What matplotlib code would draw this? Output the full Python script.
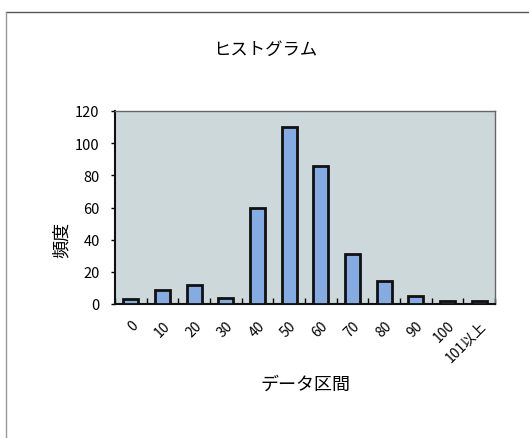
import matplotlib
matplotlib.use('Agg')
import numpy as np
from matplotlib import pyplot as plt
from matplotlib.lines import Line2D

plt.rcParams['font.family'] = ['Noto Sans CJK JP', 'DejaVu Sans']

# Data
bins = ['0', '10', '20', '30', '40', '50', '60', '70', '80', '90', '100',
        '101以上']
counts = [3, 9, 12, 4, 60, 110, 86, 31, 14, 5, 2, 2]
y_ticks = [0, 20, 40, 60, 80, 100, 120]

fig = plt.figure(figsize=(5.29, 4.39), dpi=100)
fig.patch.set_facecolor('white')

# Outer chart frame (top and left edges visible)
fig.add_artist(Line2D([6 / 529, 1.0], [1 - 13 / 439, 1 - 13 / 439],
                      transform=fig.transFigure, color='#555555', lw=1.0))
fig.add_artist(Line2D([6 / 529, 6 / 529], [0.0, 1 - 13 / 439],
                      transform=fig.transFigure, color='#999999', lw=1.0))

ax = fig.add_axes([115 / 529, 134 / 439, 380 / 529, 193 / 439])
ax.set_facecolor('#cdd8db')

x = np.arange(len(bins))
ax.bar(x, counts, width=0.47, color='#85acE2', edgecolor='#111111',
       linewidth=2.0, zorder=3)

ax.set_xlim(-0.5, len(bins) - 0.5)
ax.set_ylim(0, 120)
ax.set_yticks(y_ticks)
ax.tick_params(axis='y', labelsize=10.5, length=3, width=1, direction='out',
               pad=8)

# Category boundary ticks on the x axis, labels at centres
ax.set_xticks(np.arange(len(bins) + 1) - 0.5)
ax.set_xticklabels([])
ax.set_xticks(x, minor=True)
ax.set_xticklabels(bins, minor=True, rotation=45, ha='right',
                   rotation_mode='anchor', fontsize=10)
ax.tick_params(axis='x', which='major', length=4, width=1, direction='in')
ax.tick_params(axis='x', which='minor', length=0, pad=10)

for side in ['left', 'bottom']:
    ax.spines[side].set_color('#111111')
    ax.spines[side].set_linewidth(1.5)
for side in ['top', 'right']:
    ax.spines[side].set_color('#666666')
    ax.spines[side].set_linewidth(1.0)

fig.text(265 / 529, 1 - 50 / 439, 'ヒストグラム', ha='center', va='center',
         fontsize=12.5)
fig.text(305 / 529, 1 - 385 / 439, 'データ区間', ha='center', va='center',
         fontsize=13)
fig.text(62 / 529, 1 - 240 / 439, '頻度', ha='center', va='center',
         rotation=90, fontsize=13)

fig.savefig('out.png', dpi=100)
